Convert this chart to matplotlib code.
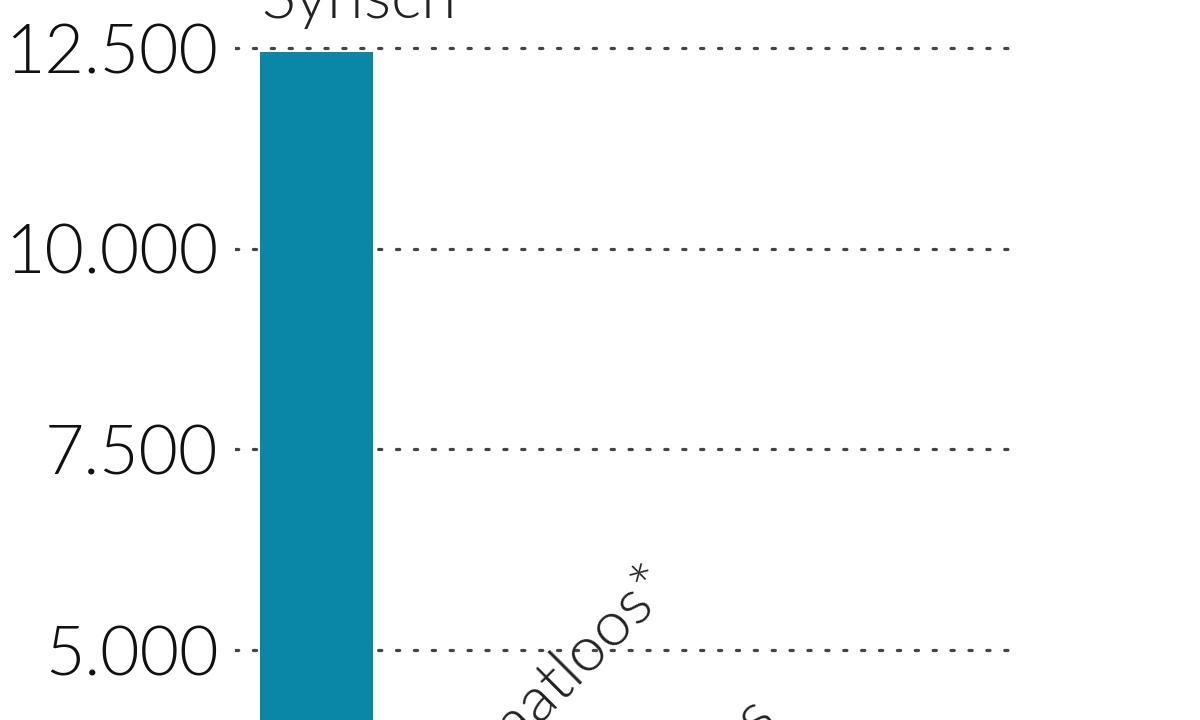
import matplotlib
matplotlib.use("Agg")
import matplotlib.pyplot as plt
from matplotlib.ticker import FuncFormatter

# data (values read/; lower bars fall outside the crop)
landen = ["Syrisch", "Staatloos*", "Eritrees", "Iraaks", "Afghaans"]
aantallen = [12450, 2900, 1880, 1200, 900]
yticks = [5000, 7500, 10000, 12500]

kleur = "#0a87a6"
plt.rcParams["font.family"] = ["Lato", "DejaVu Sans"]

fig = plt.figure(figsize=(12, 7.2), dpi=100)
ax = fig.add_axes([235 / 1200, 0, 780 / 1200, 1])

slot = 150.0  # pixels between bar centres
xs = list(range(len(landen)))
ax.bar(xs, aantallen, width=113 / slot, color=kleur, zorder=2)

ax.set_xlim((235 - 316.5) / slot, (1015 - 316.5) / slot)
ax.set_ylim(4128, 13098)

ax.set_yticks(yticks)
ax.yaxis.set_major_formatter(FuncFormatter(lambda v, p: f"{int(v):,}".replace(",", ".")))
ax.tick_params(axis="y", length=0, pad=12, labelsize=49, labelcolor="#111111")
for t in ax.get_yticklabels():
    t.set_fontweight(300)
ax.tick_params(axis="x", bottom=False, labelbottom=False)
ax.grid(axis="y", color="#444444", linestyle=(0, (1, 4.6)), linewidth=2.3,
        dash_capstyle="round", zorder=1)
for s in ax.spines.values():
    s.set_visible(False)

# labels boven de balken
for i, (naam, v) in enumerate(zip(landen, aantallen)):
    if i == 0:
        ax.text(i - 0.37, v + 420, naam, fontsize=46, color="#222222",
                fontweight=300, ha="left", va="baseline")
    else:
        ax.text(i + 0.07, v + 420, naam, fontsize=46, color="#222222",
                fontweight=300, rotation=45, rotation_mode="anchor",
                ha="left", va="baseline")

fig.savefig("out.png", dpi=100)
